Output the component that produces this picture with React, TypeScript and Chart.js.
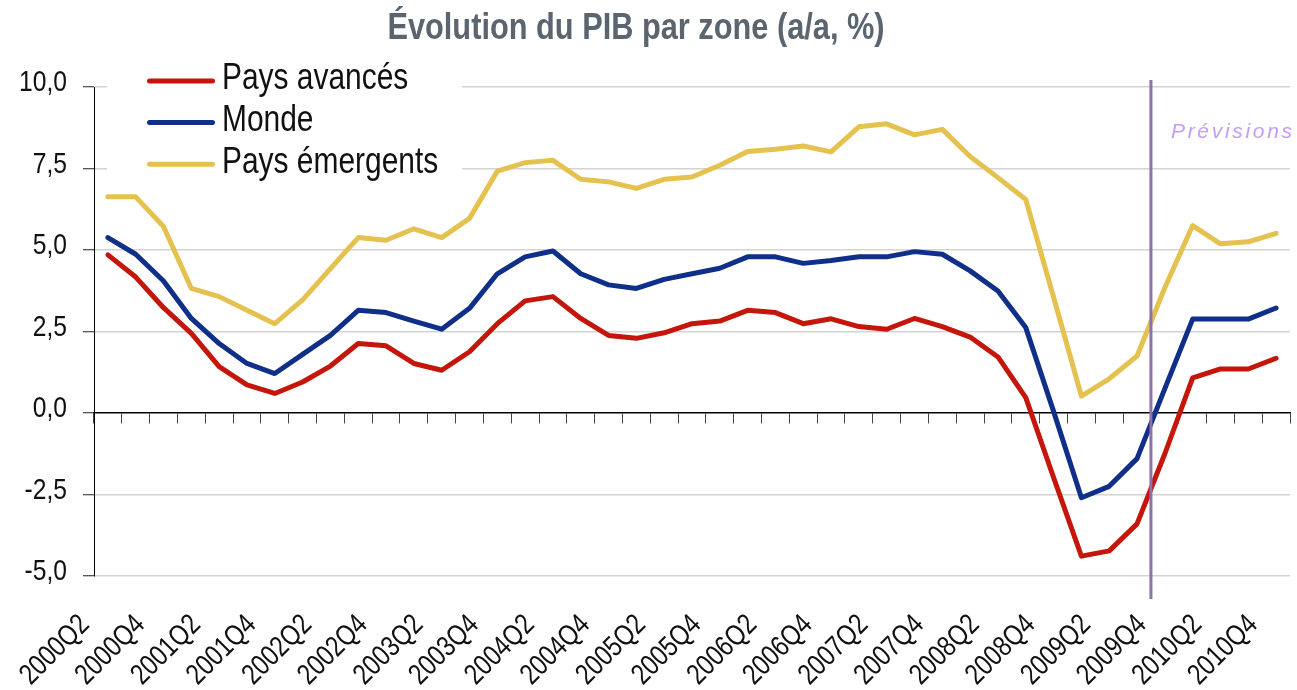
import React, { useEffect, useRef } from 'react';
import { Chart, registerables } from 'chart.js';

Chart.register(...registerables);

const quarters = [
  '2000Q2', '2000Q3', '2000Q4',
  '2001Q1', '2001Q2', '2001Q3', '2001Q4',
  '2002Q1', '2002Q2', '2002Q3', '2002Q4',
  '2003Q1', '2003Q2', '2003Q3', '2003Q4',
  '2004Q1', '2004Q2', '2004Q3', '2004Q4',
  '2005Q1', '2005Q2', '2005Q3', '2005Q4',
  '2006Q1', '2006Q2', '2006Q3', '2006Q4',
  '2007Q1', '2007Q2', '2007Q3', '2007Q4',
  '2008Q1', '2008Q2', '2008Q3', '2008Q4',
  '2009Q1', '2009Q2', '2009Q3', '2009Q4',
  '2010Q1', '2010Q2', '2010Q3', '2010Q4',
];

const paysAvances = [
  4.85, 4.17, 3.23, 2.44, 1.42, 0.86, 0.6, 0.95, 1.44, 2.13,
  2.06, 1.52, 1.31, 1.88, 2.74, 3.44, 3.57, 2.9, 2.38, 2.29,
  2.46, 2.74, 2.82, 3.15, 3.08, 2.74, 2.89, 2.65, 2.57, 2.9,
  2.65, 2.33, 1.72, 0.47, -1.98, -4.39, -4.23, -3.4, -1.25, 1.08,
  1.35, 1.35, 1.68,
];

const monde = [
  5.38, 4.87, 4.05, 2.9, 2.13, 1.52, 1.21, 1.8, 2.38, 3.15,
  3.08, 2.82, 2.57, 3.21, 4.27, 4.79, 4.97, 4.27, 3.93, 3.82,
  4.1, 4.27, 4.44, 4.79, 4.79, 4.59, 4.68, 4.79, 4.79, 4.95,
  4.87, 4.36, 3.74, 2.62, 0.05, -2.6, -2.25, -1.4, 0.75, 2.88,
  2.88, 2.88, 3.22,
];

const paysEmergents = [
  6.63, 6.63, 5.72, 3.82, 3.57, 3.15, 2.74, 3.47, 4.43, 5.38,
  5.3, 5.65, 5.38, 5.97, 7.42, 7.68, 7.75, 7.17, 7.09, 6.89,
  7.17, 7.24, 7.6, 8.02, 8.09, 8.19, 8.01, 8.78, 8.87, 8.53,
  8.7, 7.87, 7.22, 6.55, 3.55, 0.52, 1.05, 1.75, 3.84, 5.75,
  5.19, 5.25, 5.51,
];

const seriesLabels = ['Pays avancés', 'Monde', 'Pays émergents'];
const seriesColors = ['#C4160B', '#0F2F88', '#E5C24F'];
const yTicks = [-5, -2.5, 0, 2.5, 5, 7.5, 10];
const forecastStart = '2009Q4';
const chartTitle = 'Évolution du PIB par zone (a/a, %)';
const forecastLabel = 'Prévisions';

// Narrow look: Liberation Sans compressed horizontally (Arial Narrow proportions)
const NARROW = "'Liberation Sans', sans-serif";
const NARROW_SCALE = 0.82;
const REGULAR = "Arial, 'Liberation Sans', sans-serif";

const overlayPlugin = {
  id: 'overlayPlugin',
  beforeDatasetsDraw(chart: any) {
    const ctx = chart.ctx;
    ctx.save();
    ctx.fillStyle = '#ffffff';
    ctx.fillRect(107, 58, 355, 128);
    chart.data.datasets.forEach((ds: any, i: number) => {
      const yLine = 81 + i * 41.6;
      ctx.strokeStyle = ds.borderColor;
      ctx.lineWidth = 5;
      ctx.lineCap = 'round';
      ctx.beginPath();
      ctx.moveTo(149.5, yLine);
      ctx.lineTo(212.5, yLine);
      ctx.stroke();
      ctx.fillStyle = '#111111';
      ctx.font = `36.5px ${NARROW}`;
      ctx.textAlign = 'left';
      ctx.textBaseline = 'alphabetic';
      ctx.fillText(ds.label, 222, 89.3 + i * 41.6);
    });
    ctx.restore();
  },
  afterDatasetsDraw(chart: any) {
    const ctx = chart.ctx;
    const xs = chart.scales.x;
    const idx = quarters.indexOf(forecastStart);
    const px = (xs.getPixelForValue(idx - 1) + xs.getPixelForValue(idx)) / 2;
    ctx.save();
    ctx.strokeStyle = '#8D72AA';
    ctx.lineWidth = 3;
    ctx.beginPath();
    ctx.moveTo(px, 80);
    ctx.lineTo(px, 599);
    ctx.stroke();
    ctx.fillStyle = '#C49CF6';
    ctx.font = `italic 21px ${REGULAR}`;
    ctx.textAlign = 'left';
    ctx.textBaseline = 'alphabetic';
    (ctx as any).letterSpacing = '2.7px';
    ctx.fillText(forecastLabel, px + 20, 137.5);
    (ctx as any).letterSpacing = '0px';
    ctx.restore();
  },
  afterDraw(chart: any) {
    const ctx = chart.ctx;
    ctx.save();
    ctx.fillStyle = '#5A6570';
    ctx.font = `bold 37.5px ${NARROW}`;
    ctx.textAlign = 'center';
    ctx.textBaseline = 'alphabetic';
    ctx.fillText(chartTitle, 636, 39);
    ctx.restore();
  },
};

export default function App() {
  const canvasRef = useRef<HTMLCanvasElement | null>(null);

  useEffect(() => {
    const canvas = canvasRef.current;
    if (!canvas) return;
    const ctx = canvas.getContext('2d') as CanvasRenderingContext2D;
    const origFillText = ctx.fillText;
    (ctx as any).fillText = function (this: CanvasRenderingContext2D, text: string, x: number, y: number, maxWidth?: number) {
      const f = this.font;
      if (f.indexOf('Liberation Sans') >= 0 && f.indexOf('Arial') < 0) {
        this.save();
        this.translate(x, y);
        this.scale(NARROW_SCALE, 1);
        origFillText.call(this, text, 0, 0);
        this.restore();
      } else if (maxWidth === undefined) {
        origFillText.call(this, text, x, y);
      } else {
        origFillText.call(this, text, x, y, maxWidth);
      }
    };

    const datasets = [paysAvances, monde, paysEmergents].map((data, i) => ({
      label: seriesLabels[i],
      data,
      borderColor: seriesColors[i],
      backgroundColor: seriesColors[i],
      borderWidth: 5,
      pointRadius: 0,
      pointHoverRadius: 0,
      tension: 0,
      fill: false,
      borderJoinStyle: 'round' as const,
      borderCapStyle: 'round' as const,
    }));

    const chart = new Chart(canvas, {
      type: 'line',
      data: { labels: quarters, datasets },
      options: {
        responsive: false,
        animation: false,
        devicePixelRatio: 1,
        layout: { padding: { top: 87, right: 7, left: 0, bottom: 0 } },
        plugins: {
          legend: { display: false },
          title: { display: false },
          tooltip: { enabled: false },
        },
        scales: {
          x: {
            type: 'category',
            position: 'bottom',
            offset: true,
            grid: { display: false, drawTicks: false },
            border: { display: false },
            ticks: {
              autoSkip: false,
              minRotation: 45,
              maxRotation: 45,
              padding: 32,
              labelOffset: -23,
              color: '#111111',
              font: { family: NARROW, size: 29 },
              callback: function (this: any, value: any, index: number) {
                return index % 2 === 0 ? this.getLabelForValue(value) : '';
              },
            },
            afterFit: (s: any) => {
              s.height = 114;
              s.paddingLeft = 0;
              s.paddingRight = 0;
            },
          },
          x0: {
            type: 'category',
            position: { y: 0 } as any,
            offset: true,
            grid: {
              drawOnChartArea: false,
              drawTicks: true,
              tickLength: 10,
              tickColor: '#444444',
              tickWidth: 1,
              offset: true,
            },
            border: { display: true, color: '#000000', width: 1.5 },
            ticks: { display: false, autoSkip: false },
            afterFit: (s: any) => {
              s.paddingLeft = 0;
              s.paddingRight = 0;
            },
          },
          y: {
            type: 'linear',
            min: -5,
            max: 10,
            afterBuildTicks: (s: any) => {
              s.ticks = yTicks.map((v) => ({ value: v }));
            },
            grid: {
              color: (c: any) => (c.tick && c.tick.value === 0 ? 'rgba(0,0,0,0)' : '#D3D3D3'),
              lineWidth: 1.5,
              drawTicks: true,
              tickLength: 11,
              tickColor: '#222222',
              tickWidth: 1,
            },
            border: { display: true, color: '#000000', width: 1 },
            ticks: {
              padding: 16,
              labelOffset: -4,
              color: '#111111',
              font: { family: NARROW, size: 30 },
              callback: (v: any) => Number(v).toFixed(1).replace('.', ','),
            },
            afterFit: (s: any) => {
              s.width = 94;
            },
          },
        } as any,
      },
      plugins: [overlayPlugin],
    });

    return () => {
      chart.destroy();
      (ctx as any).fillText = origFillText;
    };
  }, []);

  return (
    <div
      style={{
        position: 'absolute',
        left: 0,
        top: 0,
        width: 1297,
        height: 690,
        background: '#ffffff',
      }}
    >
      <canvas ref={canvasRef} width={1297} height={690} style={{ display: 'block' }} />
    </div>
  );
}
